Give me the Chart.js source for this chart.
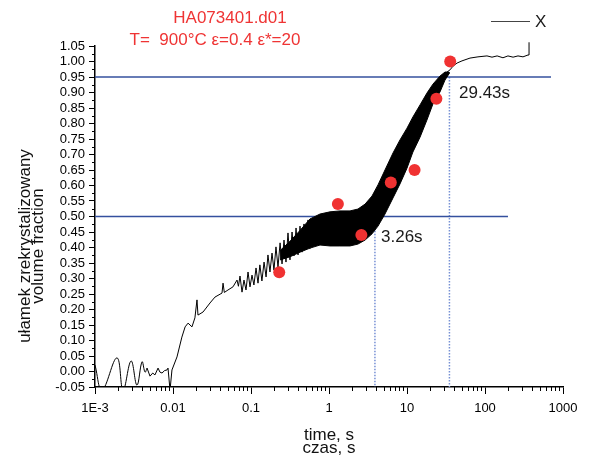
<!DOCTYPE html>
<html>
<head>
<meta charset="utf-8">
<script src="https://cdn.jsdelivr.net/npm/chart.js@4.4.1/dist/chart.umd.min.js"></script>
<style>
  html, body { margin: 0; padding: 0; background: #fff; }
</style>
</head>
<body>
<canvas id="chart" width="591" height="456"></canvas>
<script>
const xTicks = [0.001, 0.01, 0.1, 1, 10, 100, 1000];
const xTickLabels = ["1E-3", "0.01", "0.1", "1", "10", "100", "1000"];
const yTicks = [-0.05, 0, 0.05, 0.1, 0.15, 0.2, 0.25, 0.3, 0.35, 0.4, 0.45, 0.5,
  0.55, 0.6, 0.65, 0.7, 0.75, 0.8, 0.85, 0.9, 0.95, 1.0, 1.05];

// measured curve, start (noise) and the spiky part
const lineTime = [0.001, 0.00123, 0.00191, 0.00229, 0.0029, 0.00345, 0.00401, 0.00438,
  0.00465, 0.00507, 0.0055, 0.00587, 0.00643, 0.0068, 0.00723, 0.0078, 0.00838, 0.00863,
  0.00916, 0.0097, 0.01125, 0.013, 0.0143, 0.0156, 0.0175, 0.0191, 0.0203, 0.0209,
  0.0243, 0.0298, 0.0345, 0.0425, 0.0438, 0.0455, 0.0507, 0.0587, 0.0662, 0.069,
  0.0723, 0.0767, 0.0813, 0.0863, 0.0916, 0.0971, 0.103, 0.109, 0.116, 0.123, 0.13,
  0.138, 0.147, 0.156, 0.165, 0.175, 0.186, 0.197, 0.209, 0.222, 0.236, 0.25, 0.265,
  0.281, 0.298, 0.316, 0.336, 0.356, 0.378, 0.401, 0.425, 0.451, 0.478, 0.507, 0.538, 0.57];
const lineFrac = [0.021, -0.06, 0.044, -0.06, 0.034, -0.044, 0.031, -0.002,
  0.011, -0.015, -0.005, -0.011, 0.011, -0.002, -0.005, 0.003, 0.005, 0.011,
  -0.06, 0.005, 0.047, 0.111, 0.144, 0.156, 0.144, 0.173, 0.231, 0.182,
  0.192, 0.221, 0.24, 0.253, 0.285, 0.255, 0.263, 0.273, 0.295, 0.275,
  0.308, 0.256, 0.295, 0.263, 0.321, 0.273, 0.311, 0.279, 0.334, 0.285, 0.344,
  0.292, 0.353, 0.305, 0.376, 0.321, 0.382, 0.327, 0.402, 0.337, 0.415, 0.347, 0.424,
  0.353, 0.447, 0.36, 0.45, 0.373, 0.463, 0.376, 0.469, 0.385, 0.476, 0.392, 0.489, 0.395];
const smoothUntil = 8; // first humps are drawn smooth

// dense oscillation: upper / lower envelope
const bandTime = [0.236, 0.316, 0.425, 0.57, 0.767, 1.03, 1.38, 1.86, 2.35, 2.9, 3.56,
  4.25, 5.22, 6.62, 8.13, 10.0, 11.9, 14.7, 18.0, 21.5, 26.5, 30.7, 34.5];
const bandUpper = [0.39, 0.42, 0.455, 0.492, 0.508, 0.515, 0.518, 0.518, 0.524, 0.54, 0.566,
  0.602, 0.65, 0.705, 0.747, 0.785, 0.821, 0.86, 0.898, 0.927, 0.953, 0.966, 0.966];
const bandLower = [0.36, 0.37, 0.385, 0.398, 0.408, 0.405, 0.405, 0.405, 0.411, 0.424, 0.444,
  0.469, 0.508, 0.56, 0.605, 0.656, 0.708, 0.756, 0.811, 0.863, 0.902, 0.94, 0.96];

// plateau after 95 %
const tailTime = [32.6, 35.6, 38.9, 43.8, 50.7, 64.2, 81.3, 106, 123, 143, 170, 197,
  229, 265, 307, 356, 367, 367];
const tailFrac = [0.966, 0.973, 0.985, 0.995, 1.002, 1.011, 1.015, 1.018, 1.014, 1.018,
  1.012, 1.018, 1.014, 1.018, 1.015, 1.021, 1.021, 1.062];

// red points
const pointTime = [0.23, 1.3, 2.6, 6.2, 12.5, 23.8, 35.8];
const pointFrac = [0.32, 0.54, 0.44, 0.61, 0.65, 0.88, 1.0];

// 50 % and 95 % levels, dotted markers where they sit in the picture
const levelFrac = [0.5, 0.95];
const levelEnd = [197, 702];
const markTime = [3.88, 35.0];
const markTop = [0.57, 0.95];
const markText = ["3.26s", "29.43s"];

const FONT = "'Liberation Sans', Arial, sans-serif";

const xy = (xs, ys) => xs.map((x, i) => ({ x: x, y: ys[i] }));

const curve = xy(lineTime, lineFrac);
const bandShape = xy(bandTime, bandUpper)
  .concat(xy(bandTime, bandLower).reverse());

const levelSets = levelFrac.map((v, i) => ({
  data: [{ x: 0.001, y: v }, { x: levelEnd[i], y: v }],
  borderColor: "#34509e",
  borderWidth: 1.5,
  pointRadius: 0,
  order: 3,
}));
const markSets = markTime.map((t, i) => ({
  data: [{ x: t, y: markTop[i] }, { x: t, y: -0.05 }],
  borderColor: "#7690d4",
  borderWidth: 1.5,
  borderDash: [1.5, 1.5],
  pointRadius: 0,
  order: 3,
}));

const extras = {
  id: "extras",
  afterDraw(chart) {
    const ctx = chart.ctx;
    const xs = chart.scales.x, ys = chart.scales.y;
    const area = chart.chartArea;
    ctx.save();
    ctx.strokeStyle = "#000";
    ctx.lineWidth = 1;
    // minor ticks
    ctx.beginPath();
    for (let d = -3; d < 3; d++) {
      for (let k = 2; k < 10; k++) {
        const px = Math.round(xs.getPixelForValue(k * Math.pow(10, d))) + 0.5;
        ctx.moveTo(px, area.bottom - 1);
        ctx.lineTo(px, area.bottom + 4);
      }
    }
    for (let i = 0; i < yTicks.length - 1; i++) {
      const py = Math.round(ys.getPixelForValue((yTicks[i] + yTicks[i + 1]) / 2)) + 0.5;
      ctx.moveTo(area.left, py);
      ctx.lineTo(area.left - 3, py);
    }
    ctx.stroke();

    // marks text
    ctx.fillStyle = "#1a1a1a";
    ctx.font = "17px " + FONT;
    ctx.textAlign = "left";
    ctx.textBaseline = "alphabetic";
    ctx.fillText(markText[0], 381, 242);
    ctx.fillText(markText[1], 459, 98);

    // legend
    ctx.strokeStyle = "#444";
    ctx.beginPath();
    ctx.moveTo(491, 21.5);
    ctx.lineTo(530, 21.5);
    ctx.stroke();
    ctx.fillText("X", 535, 27);

    // title
    ctx.fillStyle = "#ef3434";
    ctx.textAlign = "center";
    ctx.fillText("HA073401.d01", 230, 23);
    ctx.fillText("T=  900°C \u03b5=0.4 \u03b5*=20", 215, 45);

    // axis titles
    ctx.fillStyle = "#111";
    ctx.fillText("time, s", 329, 440);
    ctx.fillText("czas, s", 329, 453);
    ctx.translate(0, 246);
    ctx.rotate(-Math.PI / 2);
    ctx.fillText("ułamek zrekrystalizowany", 0, 30);
    ctx.fillText("volume fraction", 0, 43);
    ctx.restore();
  },
};

new Chart(document.getElementById("chart"), {
  type: "line",
  data: {
    datasets: [
      {
        label: "points",
        data: xy(pointTime, pointFrac),
        showLine: false,
        pointRadius: 6,
        pointBackgroundColor: "#f03232",
        pointBorderWidth: 0,
        order: 0,
      },
      {
        label: "X",
        data: curve.slice(0, smoothUntil + 1),
        borderColor: "#000",
        borderWidth: 1,
        tension: 0.4,
        pointRadius: 0,
        order: 1,
      },
      {
        label: "X2",
        data: curve.slice(smoothUntil),
        borderColor: "#000",
        borderWidth: 1,
        pointRadius: 0,
        order: 1,
      },
      {
        label: "band",
        data: bandShape,
        borderColor: "#000",
        borderWidth: 1,
        backgroundColor: "#000",
        fill: "shape",
        pointRadius: 0,
        order: 1,
      },
      {
        label: "tail",
        data: xy(tailTime, tailFrac),
        borderColor: "#000",
        borderWidth: 1,
        pointRadius: 0,
        clip: { left: 0, top: 8, right: 0, bottom: 0 },
        order: 1,
      },
      ...levelSets,
      ...markSets,
    ],
  },
  options: {
    responsive: false,
    animation: false,
    devicePixelRatio: 1,
    layout: { padding: { top: 46, right: 28, left: 0, bottom: 0 } },
    plugins: { legend: { display: false }, tooltip: { enabled: false } },
    scales: {
      x: {
        type: "logarithmic",
        min: 0.001,
        max: 1000,
        afterBuildTicks: (s) => { s.ticks = xTicks.map((v) => ({ value: v })); },
        afterFit: (s) => { s.height = 69; },
        ticks: {
          autoSkip: false,
          maxRotation: 0,
          padding: 7,
          color: "#000",
          font: { family: FONT, size: 13 },
          callback: (v, i) => xTickLabels[i],
        },
        grid: { drawOnChartArea: false, drawTicks: true, tickLength: 7, tickWidth: 1, color: "#000" },
        border: { display: true, color: "#000", width: 1.5 },
      },
      y: {
        min: -0.05,
        max: 1.05,
        afterBuildTicks: (s) => { s.ticks = yTicks.map((v) => ({ value: v })); },
        afterFit: (s) => { s.width = 95; },
        ticks: {
          autoSkip: false,
          padding: 4,
          color: "#000",
          font: { family: FONT, size: 13 },
          callback: (v, i) => yTicks[i].toFixed(2),
        },
        grid: { drawOnChartArea: false, drawTicks: true, tickLength: 6, tickWidth: 1, color: "#000" },
        border: { display: true, color: "#000", width: 1.5 },
      },
    },
  },
  plugins: [extras],
});
</script>
</body>
</html>
